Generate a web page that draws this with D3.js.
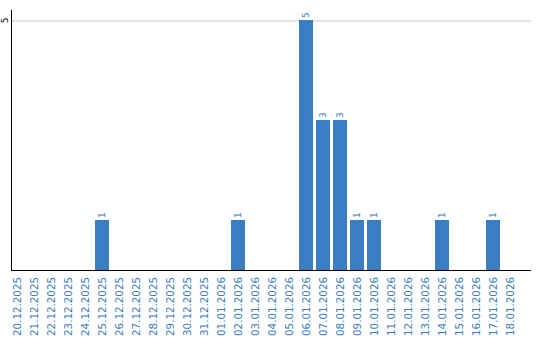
<!DOCTYPE html>
<html>
<head>
<meta charset="utf-8">
<script src="https://cdn.jsdelivr.net/npm/d3@7"></script>
<style>
  body { margin: 0; background: #fff; }
  svg { display: block; font-family: 'DejaVu Sans', Verdana, sans-serif; }
</style>
</head>
<body>
<svg id="chart" width="540" height="340"></svg>
<script>
const dates = [
  '20.12.2025', '21.12.2025', '22.12.2025', '23.12.2025', '24.12.2025',
  '25.12.2025', '26.12.2025', '27.12.2025', '28.12.2025', '29.12.2025',
  '30.12.2025', '31.12.2025', '01.01.2026', '02.01.2026', '03.01.2026',
  '04.01.2026', '05.01.2026', '06.01.2026', '07.01.2026', '08.01.2026',
  '09.01.2026', '10.01.2026', '11.01.2026', '12.01.2026', '13.01.2026',
  '14.01.2026', '15.01.2026', '16.01.2026', '17.01.2026', '18.01.2026'
];
const counts = [
  0, 0, 0, 0, 0,
  1, 0, 0, 0, 0,
  0, 0, 0, 1, 0,
  0, 0, 5, 3, 3,
  1, 1, 0, 0, 0,
  1, 0, 0, 1, 0
];
const yTicks = [5];

const blue = '#3a7dc2';
const svg = d3.select('#chart');

// sizes
const plotLeft = 11;
const plotRight = 531;
const plotBottom = 270;
const plotTop = 20;

const data = dates.map((d, i) => ({ date: d, value: counts[i] }));

// scales
const x = d3.scaleBand()
  .domain(dates)
  .range([10, 517])
  .paddingInner(3 / 17)
  .paddingOuter(0)
  .align(0);

const y = d3.scaleLinear()
  .domain([0, 5])
  .range([plotBottom, plotTop]);

// grid line
const grid = svg.append('g')
  .attr('transform', `translate(${plotLeft},0.5)`)
  .call(d3.axisRight(y).tickValues(yTicks).tickSize(plotRight - plotLeft).tickFormat(''));
grid.select('.domain').remove();
grid.selectAll('.tick line').attr('stroke', '#c8c8c8');

// bars
svg.append('g')
  .selectAll('rect')
  .data(data.filter(d => d.value > 0))
  .join('rect')
  .attr('x', d => x(d.date))
  .attr('y', d => y(d.value))
  .attr('width', x.bandwidth())
  .attr('height', d => y(0) - y(d.value))
  .attr('fill', blue);

// value labels
svg.append('g')
  .selectAll('text')
  .data(data.filter(d => d.value > 0))
  .join('text')
  .attr('transform', d => `translate(${x(d.date) + x.bandwidth() / 2 + 3},${y(d.value) - 2}) rotate(-90)`)
  .attr('font-size', 9)
  .attr('fill', blue)
  .text(d => d.value);

// y axis
const gy = svg.append('g')
  .attr('transform', `translate(${plotLeft},0)`)
  .call(d3.axisLeft(y).tickValues(yTicks).tickFormat(d3.format('d')).tickSize(0).tickPadding(0));
gy.select('.domain').remove();
gy.selectAll('.tick text')
  .attr('transform', 'rotate(-90)')
  .attr('x', 0)
  .attr('y', -3)
  .attr('dy', 0)
  .attr('text-anchor', 'middle')
  .attr('font-size', 9)
  .attr('font-family', "'DejaVu Sans', Verdana, sans-serif")
  .attr('fill', '#000');
svg.append('line')
  .attr('x1', plotLeft + 0.5).attr('x2', plotLeft + 0.5)
  .attr('y1', 10).attr('y2', plotBottom)
  .attr('stroke', '#000');

// x axis
const gx = svg.append('g')
  .attr('transform', `translate(0,${plotBottom})`)
  .call(d3.axisBottom(x).tickSize(0).tickSizeOuter(0));
gx.select('.domain').remove();
gx.selectAll('.tick').attr('transform', d => `translate(${x(d) + x.bandwidth() / 2},0)`);
gx.selectAll('.tick text')
  .attr('transform', 'rotate(-90)')
  .attr('x', -7)
  .attr('y', 0)
  .attr('dy', '0.35em')
  .attr('text-anchor', 'end')
  .attr('font-size', 10.3)
  .attr('font-family', "'DejaVu Sans', Verdana, sans-serif")
  .attr('fill', blue);
svg.append('line')
  .attr('x1', plotLeft).attr('x2', plotRight)
  .attr('y1', plotBottom + 0.5).attr('y2', plotBottom + 0.5)
  .attr('stroke', '#000');
</script>
</body>
</html>
